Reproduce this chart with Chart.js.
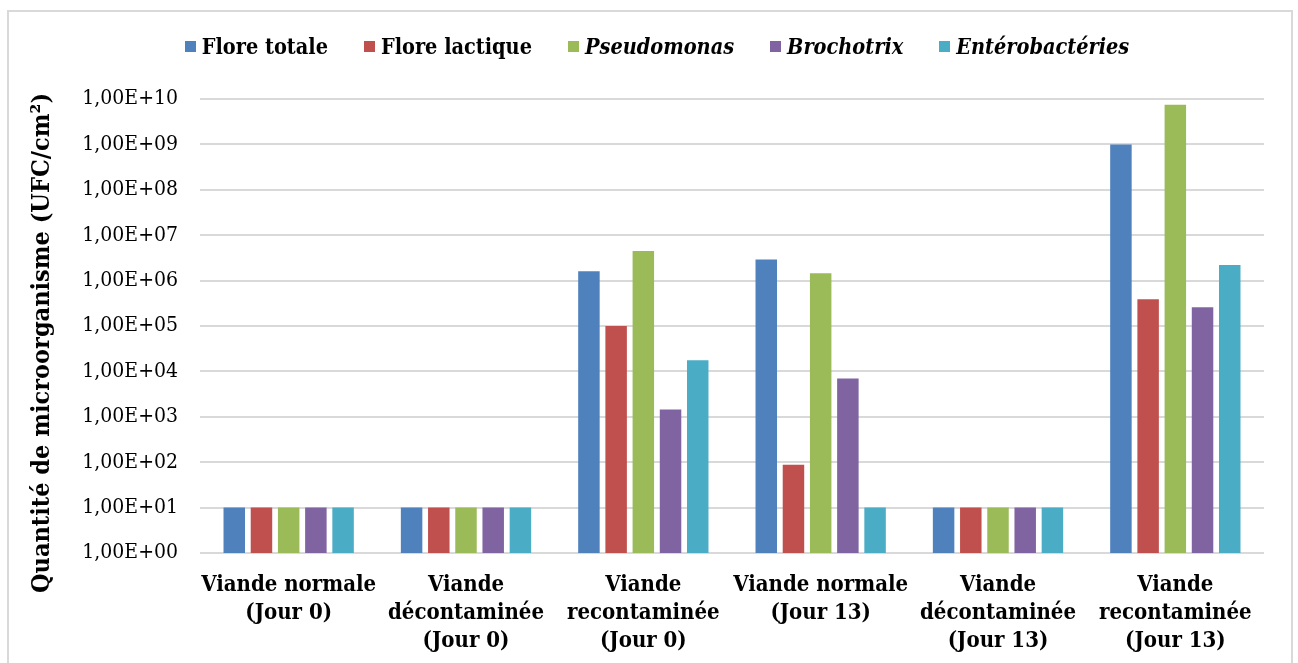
<!DOCTYPE html>
<html lang="fr">
<head>
<meta charset="utf-8">
<title>Quantité de microorganisme</title>
<script src="https://cdn.jsdelivr.net/npm/chart.js@4.4.0/dist/chart.umd.min.js"></script>
<style>
  html, body { margin: 0; padding: 0; background: #fff; }
  #wrap { position: relative; width: 1298px; height: 663px; overflow: hidden; }
  #frame { position: absolute; left: 7px; top: 10px; width: 1286px; height: 700px;
           border: 2px solid #d9d9d9; box-sizing: border-box; pointer-events: none; }
  #chart { position: absolute; left: 0; top: 0; }
  #legend { position: absolute; left: 8px; top: 34px; width: 1298px; display: flex;
            justify-content: center; align-items: center;
            font-family: "DejaVu Serif Condensed", "DejaVu Serif", serif; font-weight: bold;
            font-size: 21.5px; color: #000; }
  .item { display: flex; align-items: center; margin: 0 18px; }
  .box { width: 11px; height: 11px; margin-right: 6px; }
</style>
</head>
<body>
<div id="wrap">
  <canvas id="chart" width="1298" height="663"></canvas>
  <div id="legend"></div>
  <div id="frame"></div>
</div>
<script>
// Sample groups (x axis)
const categories = [
  ['Viande normale', '(Jour 0)'],
  ['Viande', 'décontaminée', '(Jour 0)'],
  ['Viande', 'recontaminée', '(Jour 0)'],
  ['Viande normale', '(Jour 13)'],
  ['Viande', 'décontaminée', '(Jour 13)'],
  ['Viande', 'recontaminée', '(Jour 13)']
];

// Counts in UFC/cm² per microbial group
const floreTotale      = [10, 10, 1.6e6, 2.9e6, 10, 1.0e9];
const floreLactique    = [10, 10, 1.0e5, 88,    10, 3.9e5];
const pseudomonas      = [10, 10, 4.5e6, 1.45e6, 10, 7.5e9];
const brochotrix       = [10, 10, 1.45e3, 7.0e3, 10, 2.6e5];
const enterobacteries  = [10, 10, 1.75e4, 10,   10, 2.2e6];

const seriesNames  = ['Flore totale', 'Flore lactique', 'Pseudomonas', 'Brochotrix', 'Entérobactéries'];
const seriesItalic = [false, false, true, true, true];
const seriesColors = ['#4F81BD', '#C0504D', '#9BBB59', '#8064A2', '#4BACC6'];

// Log axis ticks
const tickValues = [1, 1e1, 1e2, 1e3, 1e4, 1e5, 1e6, 1e7, 1e8, 1e9, 1e10];
const tickLabels = ['1,00E+00', '1,00E+01', '1,00E+02', '1,00E+03', '1,00E+04', '1,00E+05',
                    '1,00E+06', '1,00E+07', '1,00E+08', '1,00E+09', '1,00E+10'];

const yTitle = 'Quantité de microorganisme (UFC/cm²)';

const seriesValues = [floreTotale, floreLactique, pseudomonas, brochotrix, enterobacteries];
const serifFamily = '"DejaVu Serif Condensed", "DejaVu Serif", serif';

// Rotated y-axis title, placed independently of the plot area's centre
const yTitlePlugin = {
  id: 'yTitle',
  afterDraw(chart) {
    const ctx = chart.ctx;
    ctx.save();
    ctx.translate(42, 343);
    ctx.rotate(-Math.PI / 2);
    ctx.font = 'bold 25px ' + serifFamily;
    ctx.fillStyle = '#000';
    ctx.textAlign = 'center';
    ctx.textBaseline = 'middle';
    ctx.fillText(yTitle, 0, 0);
    ctx.restore();
  }
};

const chart = new Chart(document.getElementById('chart'), {
  type: 'bar',
  data: {
    labels: categories,
    datasets: seriesNames.map((name, i) => ({
      label: name,
      data: seriesValues[i],
      backgroundColor: seriesColors[i],
      borderWidth: 0,
      categoryPercentage: 0.767,
      barPercentage: 0.79
    }))
  },
  plugins: [yTitlePlugin],
  options: {
    responsive: false,
    animation: false,
    layout: { padding: { top: 99, right: 34, bottom: 0, left: 0 } },
    plugins: { legend: { display: false }, tooltip: { enabled: false } },
    scales: {
      x: {
        afterFit: (scale) => { scale.height = 110; },
        grid: { display: false, drawTicks: false },
        border: { display: false },
        ticks: {
          color: '#000',
          padding: 18,
          maxRotation: 0,
          autoSkip: false,
          font: { family: serifFamily, size: 22, weight: 'bold', lineHeight: 1.27 }
        }
      },
      y: {
        type: 'logarithmic',
        min: 1,
        max: 1e10,
        afterBuildTicks: (scale) => { scale.ticks = tickValues.map(v => ({ value: v })); },
        afterFit: (scale) => { scale.width = 200; },
        grid: { color: '#d9d9d9', lineWidth: 2, drawTicks: false },
        border: { display: false },
        ticks: {
          color: '#000',
          padding: 22,
          font: { family: serifFamily, size: 21 },
          callback: (value) => tickLabels[tickValues.indexOf(value)]
        },
        title: { display: false }
      }
    }
  }
});

// Legend built from the chart's datasets
const legend = document.getElementById('legend');
chart.data.datasets.forEach((ds, i) => {
  const item = document.createElement('div');
  item.className = 'item';
  const box = document.createElement('span');
  box.className = 'box';
  box.style.background = ds.backgroundColor;
  const txt = document.createElement('span');
  txt.textContent = ds.label;
  if (seriesItalic[i]) txt.style.fontStyle = 'italic';
  item.appendChild(box);
  item.appendChild(txt);
  legend.appendChild(item);
});
</script>
</body>
</html>
